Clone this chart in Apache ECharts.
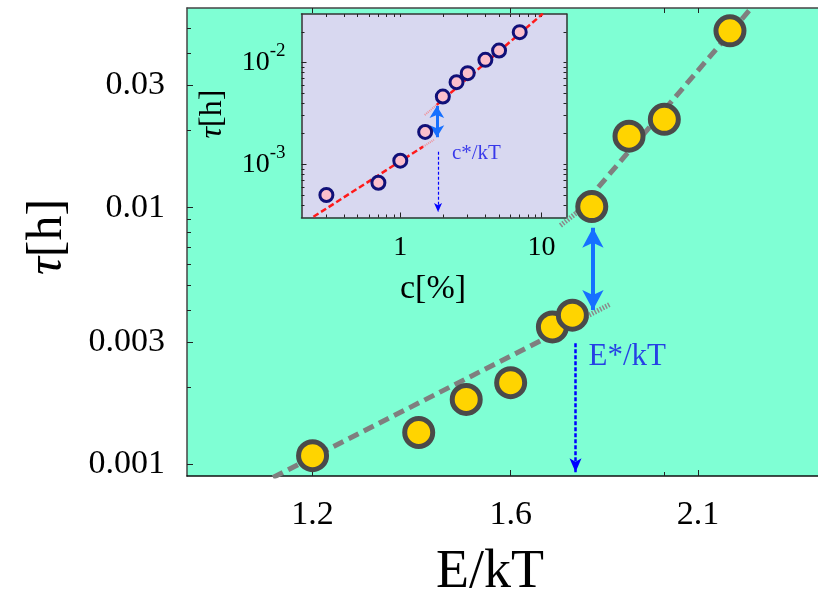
<!DOCTYPE html>
<html><head><meta charset="utf-8">
<script src="https://cdn.jsdelivr.net/npm/echarts@6/dist/echarts.min.js"></script>
<style>html,body{margin:0;padding:0;background:#fff}#c{width:818px;height:592px}</style>
</head><body><div id="c"></div>
<script>
// ---- data ----
const energy   = [1.2, 1.4, 1.5, 1.6, 1.7, 1.75, 1.8, 1.9, 2.0, 2.2];
const tauMain  = [0.00108, 0.00133, 0.00179, 0.00208, 0.00343, 0.00381, 0.0101, 0.019, 0.0221, 0.0489];
const conc     = [0.3, 0.7, 1.0, 1.5, 2.0, 2.5, 3.0, 4.0, 5.0, 7.0];
const tauInset = [0.000499, 0.000659, 0.001085, 0.00208, 0.00463, 0.00641, 0.00787, 0.01063, 0.01312, 0.0199];

const mainLowDashed  = [[1.133, 0.000888], [1.72, 0.00332]];
const mainLowDotted  = [[1.78, 0.003724], [1.85, 0.004215]];
const mainHighDotted = [[1.72, 0.00852], [1.76, 0.00953]];
const mainHighDashed = [[1.76, 0.00953], [2.273, 0.0607]];

const insLowDashed  = [[0.243, 0.000305], [1.45, 0.00149]];
const insLowDotted  = [[1.45, 0.00149], [1.73, 0.00174]];
const insHighDotted = [[1.49, 0.00305], [1.81, 0.00384]];
const insHighDashed = [[1.81, 0.00384], [10.2, 0.0302]];

const mainDoubleArrow = [[1.803, 0.00835], [1.803, 0.00399]];
const mainDropArrow   = [[1.758, 0.00296], [1.758, 0.00093]];
const insDoubleArrow  = [[1.815, 0.00375], [1.815, 0.001845]];
const insDropArrow    = [[1.85, 0.00133], [1.85, 0.00034]];
const mainMarkerText  = [[1.79, 0.00261, 'E*/kT']];
const insMarkerText   = [[2.3, 0.00129, 'c*/kT']];

const xTicksMain = [1.2, 1.6, 2.1];
const xTickLabelsMain = ['1.2', '1.6', '2.1'];
const xMinorMain = [2.0];
const xTopTicksMain = [1.2, 1.6, 2.0, 2.1];
const yTicksMain = [0.001, 0.003, 0.01, 0.03];
const yTickLabelsMain = ['0.001', '0.003', '0.01', '0.03'];
const yMinorMain = [0.002, 0.004, 0.005, 0.006, 0.007, 0.008, 0.009, 0.02, 0.04, 0.05];

const xTicksInset = [1, 10];
const xTickLabelsInset = ['1', '10'];
const xMinorInset = [0.3, 0.4, 0.5, 0.6, 0.7, 0.8, 0.9, 2, 3, 4, 5, 6, 7, 8, 9];
const yTicksInset = [0.001, 0.01];
const yTickLabelsInset = ['{n|10}{s|-3}', '{n|10}{s|-2}'];
const yMinorInset = [0.0004, 0.0005, 0.0006, 0.0007, 0.0008, 0.0009, 0.002, 0.003, 0.004, 0.005, 0.006, 0.007, 0.008, 0.009, 0.02];

// ---- helpers ----
const L = Math.log10;
const FONT = '"Liberation Serif", "Times New Roman", serif';
const lp = arr => arr.map(p => [L(p[0]), L(p[1])]);
const labelFor = (ticks, labels) => v => {
  for (let i = 0; i < ticks.length; i++) if (Math.abs(L(ticks[i]) - v) < 1e-6) return labels[i];
  return '';
};

function axis(gridIndex, position, min, max, o) {
  const a = Object.assign({
    type: 'value', gridIndex, position, min: L(min), max: L(max),
    splitLine: { show: false },
    axisLine: { show: false },
    axisTick: { show: false },
    axisLabel: { show: false }
  }, o);
  a.axisLine = Object.assign({}, a.axisLine, { onZero: false });
  return a;
}
function ticks(vals, len, color) {
  return { show: true, inside: true, length: len, customValues: vals.map(L),
           lineStyle: { color: color || '#222', width: 1 } };
}

const MX = [1, 2.5], MY = [0.0009, 0.06];
const IX = [0.2, 15], IY = [0.0003, 0.03];

const xAxes = [
  axis(0, 'bottom', MX[0], MX[1], {
    axisLine: { show: true, lineStyle: { color: '#111', width: 1.5 } },
    axisTick: ticks(xTicksMain, 6),
    axisLabel: { show: true, customValues: xTicksMain.map(L), formatter: labelFor(xTicksMain, xTickLabelsMain),
                 fontFamily: FONT, fontSize: 34, color: '#000', margin: 22 }
  }),
  axis(0, 'bottom', MX[0], MX[1], { axisTick: ticks(xMinorMain, 4) }),
  axis(0, 'top', MX[0], MX[1], {
    axisLine: { show: true, lineStyle: { color: '#444', width: 1.5 } },
    axisTick: ticks(xTopTicksMain, 5)
  }),
  axis(1, 'bottom', IX[0], IX[1], {
    axisLine: { show: true, lineStyle: { color: '#333', width: 1.5 } },
    axisTick: ticks(xTicksInset, 5),
    axisLabel: { show: true, customValues: xTicksInset.map(L), formatter: labelFor(xTicksInset, xTickLabelsInset),
                 fontFamily: FONT, fontSize: 28, color: '#000', margin: 16 }
  }),
  axis(1, 'bottom', IX[0], IX[1], { axisTick: ticks(xMinorInset, 3) }),
  axis(1, 'top', IX[0], IX[1], {
    axisLine: { show: true, lineStyle: { color: '#333', width: 1.5 } },
    axisTick: ticks(xTicksInset.concat(xMinorInset), 3)
  })
];
const yAxes = [
  axis(0, 'left', MY[0], MY[1], {
    axisLine: { show: true, lineStyle: { color: '#444', width: 1.5 } },
    axisTick: ticks(yTicksMain, 6),
    axisLabel: { show: true, customValues: yTicksMain.map(L), formatter: labelFor(yTicksMain, yTickLabelsMain),
                 fontFamily: FONT, fontSize: 34, color: '#000', margin: 22 }
  }),
  axis(0, 'left', MY[0], MY[1], { axisTick: ticks(yMinorMain, 4) }),
  axis(1, 'left', IY[0], IY[1], {
    axisLine: { show: true, lineStyle: { color: '#333', width: 1.5 } },
    axisTick: ticks(yTicksInset, 5),
    axisLabel: { show: true, customValues: yTicksInset.map(L), formatter: labelFor(yTicksInset, yTickLabelsInset),
                 fontFamily: FONT, color: '#000', margin: 16,
                 rich: { n: { fontFamily: FONT, fontSize: 28, lineHeight: 42, color: '#000' },
                         s: { fontFamily: FONT, fontSize: 19, lineHeight: 19, verticalAlign: 'top', color: '#000' } } }
  }),
  axis(1, 'left', IY[0], IY[1], { axisTick: ticks(yMinorInset, 3) }),
  axis(1, 'right', IY[0], IY[1], {
    axisLine: { show: true, lineStyle: { color: '#333', width: 1.5 } },
    axisTick: ticks(yTicksInset.concat(yMinorInset), 3)
  })
];

function fitLine(data, xi, yi, style, z) {
  return { type: 'line', xAxisIndex: xi, yAxisIndex: yi, data: lp(data), symbol: 'none',
           lineStyle: style, z: z || 2, silent: true, animation: false };
}
function arrowMark(seg, both, color, width, dash, size) {
  const d = lp(seg);
  return { silent: true, animation: false, symbol: both ? ['arrow', 'arrow'] : ['none', 'arrow'],
           symbolSize: size, label: { show: false }, emphasis: { disabled: true },
           lineStyle: { color, width, type: dash, opacity: 1 },
           data: [[{ coord: d[0] }, { coord: d[1] }]] };
}
function textSeries(items, xi, yi, size) {
  return { type: 'scatter', xAxisIndex: xi, yAxisIndex: yi, data: items.map(p => [L(p[0]), L(p[1]), p[2]]),
           symbolSize: 1, itemStyle: { color: 'rgba(0,0,0,0)' }, z: 6, animation: false, silent: true,
           label: { show: true, position: 'right', distance: 0, formatter: p => p.data[2],
                    fontFamily: FONT, fontSize: size, color: '#1010e8' } };
}

const GRAY_DASH = { color: '#7f7f7f', width: 5, type: [11, 6] };
const GRAY_DOT  = { color: '#8a8a8a', width: 5, type: [1.5, 1.5] };
const RED_DASH  = { color: '#ff1a1a', width: 2.5, type: [6, 3] };
const RED_DOT   = { color: '#ff6060', width: 2, type: [1, 1], opacity: 0.6 };

const series = [
  Object.assign(fitLine(mainLowDashed, 0, 0, GRAY_DASH), {
    markLine: arrowMark(mainDoubleArrow, true, '#1670ff', 4, 'solid', [16, 20]) }),
  Object.assign(fitLine(mainLowDotted, 0, 0, GRAY_DOT), {
    markLine: arrowMark(mainDropArrow, false, '#0000ff', 2.5, [4, 2], [9, 14]) }),
  fitLine(mainHighDotted, 0, 0, GRAY_DOT),
  fitLine(mainHighDashed, 0, 0, GRAY_DASH),
  { type: 'scatter', xAxisIndex: 0, yAxisIndex: 0, data: energy.map((e, i) => [L(e), L(tauMain[i])]),
    symbol: 'circle', symbolSize: 28, z: 5, animation: false,
    itemStyle: { color: '#ffd400', borderColor: '#4a4a4a', borderWidth: 5, opacity: 1 } },
  textSeries(mainMarkerText, 0, 0, 31),

  Object.assign(fitLine(insLowDashed, 3, 2, RED_DASH), {
    markLine: arrowMark(insDoubleArrow, true, '#1670ff', 3, 'solid', [11, 12]) }),
  Object.assign(fitLine(insLowDotted, 3, 2, RED_DOT), {
    markLine: arrowMark(insDropArrow, false, '#0000ff', 1.2, [3, 2], [6, 9]) }),
  fitLine(insHighDotted, 3, 2, RED_DOT),
  fitLine(insHighDashed, 3, 2, RED_DASH),
  { type: 'scatter', xAxisIndex: 3, yAxisIndex: 2, data: conc.map((c, i) => [L(c), L(tauInset[i])]),
    symbol: 'circle', symbolSize: 13, z: 5, animation: false,
    itemStyle: { color: '#fbbfcc', borderColor: '#101078', borderWidth: 3, opacity: 1 } },
  textSeries(insMarkerText, 3, 2, 21)
];

const chart = echarts.init(document.getElementById('c'), null, { renderer: 'canvas' });
chart.setOption({
  animation: false,
  backgroundColor: '#ffffff',
  grid: [
    { left: 187, top: 8, width: 637, height: 468, show: true, backgroundColor: '#7fffd4', borderWidth: 0, containLabel: false },
    { left: 301.5, top: 14, width: 265, height: 203.5, show: true, backgroundColor: '#d8d8f0', borderWidth: 0, containLabel: false }
  ],
  xAxis: xAxes,
  yAxis: yAxes,
  series,
  graphic: [
    { type: 'text', x: 48, y: 237, rotation: Math.PI / 2, z: 10,
      style: { text: '{i|τ}[h]', fontFamily: FONT, fontSize: 50, fill: '#000', align: 'center', verticalAlign: 'middle',
               rich: { i: { fontFamily: FONT, fontSize: 50, fontStyle: 'italic', fill: '#000' } } } },
    { type: 'text', x: 490, y: 573, z: 10,
      style: { text: 'E/kT', fontFamily: FONT, fontSize: 54, fill: '#000', align: 'center', verticalAlign: 'middle' } },
    { type: 'text', x: 213, y: 114, rotation: Math.PI / 2, z: 10,
      style: { text: '{i|τ}[h]', fontFamily: FONT, fontSize: 32, fill: '#000', align: 'center', verticalAlign: 'middle',
               rich: { i: { fontFamily: FONT, fontSize: 32, fontStyle: 'italic', fill: '#000' } } } },
    { type: 'text', x: 433, y: 289, z: 10,
      style: { text: 'c[%]', fontFamily: FONT, fontSize: 34, fill: '#000', align: 'center', verticalAlign: 'middle' } }
  ]
});
</script>
</body></html>
